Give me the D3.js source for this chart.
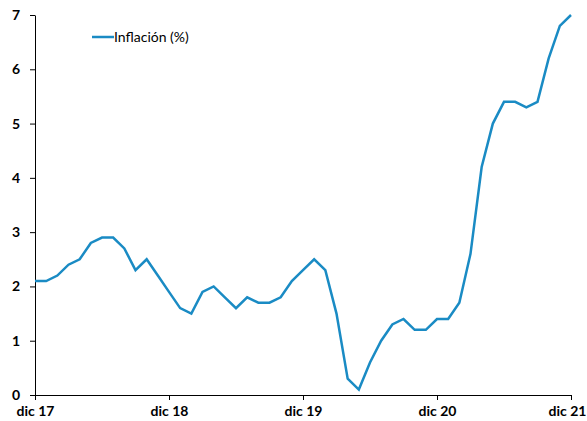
<!DOCTYPE html>
<html>
<head>
<meta charset="utf-8">
<script src="https://cdn.jsdelivr.net/npm/d3@7"></script>
<style>
  body { margin: 0; background: #fff; }
  svg { display: block; }
</style>
</head>
<body>
<svg id="chart" width="587" height="421"></svg>
<script>
/* Data: monthly inflation, dic 17 .. dic 21 */
const months = d3.range(0, 49);
const inflation = [
    2.1,
    2.1, 2.2, 2.4, 2.5, 2.8, 2.9, 2.9, 2.7, 2.3, 2.5, 2.2, 1.9,
    1.6, 1.5, 1.9, 2.0, 1.8, 1.6, 1.8, 1.7, 1.7, 1.8, 2.1, 2.3,
    2.5, 2.3, 1.5, 0.3, 0.1, 0.6, 1.0, 1.3, 1.4, 1.2, 1.2, 1.4,
    1.4, 1.7, 2.6, 4.2, 5.0, 5.4, 5.4, 5.3, 5.4, 6.2, 6.8, 7.0
];
const xTickIdx = [0, 12, 24, 36, 48];
const xTickLabels = ["dic 17", "dic 18", "dic 19", "dic 20", "dic 21"];
const yTicks = [0, 1, 2, 3, 4, 5, 6, 7];
const seriesName = "Inflación (%)";

const lineColor = "#1a8bc4";
const fontFam = "Lato, 'Open Sans', sans-serif";

const svg = d3.select("#chart");

/* scales */
var x = d3.scaleLinear()
    .domain([0, 48])
    .range([35, 571]);

var y = d3.scaleLinear()
    .domain([0, 7])
    .range([395, 15]);

/* y axis */
var yAxis = d3.axisLeft()
    .scale(y)
    .tickValues(yTicks)
    .tickFormat(d3.format("d"))
    .tickSize(5)
    .tickSizeOuter(0)
    .tickPadding(10);

svg.append("g")
    .attr("class", "yAxis")
    .attr("transform", "translate(" + x(0) + ",0)")
    .call(yAxis)
    .call(g => g.selectAll("line, path").attr("stroke", "#000").attr("stroke-width", 1))
    .call(g => g.selectAll("text")
        .style("font-family", fontFam)
        .style("font-weight", "700")
        .style("font-size", "14px")
        .attr("fill", "#000"));

/* x axis */
var xAxis = d3.axisBottom()
    .scale(x)
    .tickValues(xTickIdx)
    .tickFormat((d, i) => xTickLabels[i])
    .tickSize(5)
    .tickSizeOuter(0)
    .tickPadding(6);

svg.append("g")
    .attr("class", "xAxis")
    .attr("transform", "translate(0," + y(0) + ")")
    .call(xAxis)
    .call(g => g.selectAll("line, path").attr("stroke", "#000").attr("stroke-width", 1))
    .call(g => g.selectAll("text")
        .style("font-family", fontFam)
        .style("font-weight", "700")
        .style("font-size", "14px")
        .attr("fill", "#000"))
    .call(g => g.selectAll(".tick text")
        .filter(d => d === 48)
        .attr("text-anchor", "end")
        .attr("dx", "15"));

/* the line */
var line = d3.line()
    .x((d, i) => x(months[i]))
    .y(d => y(d));

svg.append("path")
    .datum(inflation)
    .attr("class", "lines")
    .attr("fill", "none")
    .attr("stroke", lineColor)
    .attr("stroke-width", 2.5)
    .attr("stroke-linejoin", "miter")
    .attr("d", line);

/* legend */
svg.append("line")
    .attr("x1", 92)
    .attr("x2", 114)
    .attr("y1", 37)
    .attr("y2", 37)
    .attr("stroke", lineColor)
    .attr("stroke-width", 2.5);

svg.append("text")
    .attr("x", 114)
    .attr("y", 42)
    .style("font-family", fontFam)
    .style("font-size", "14px")
    .attr("fill", "#000")
    .text(seriesName);
</script>
</body>
</html>
